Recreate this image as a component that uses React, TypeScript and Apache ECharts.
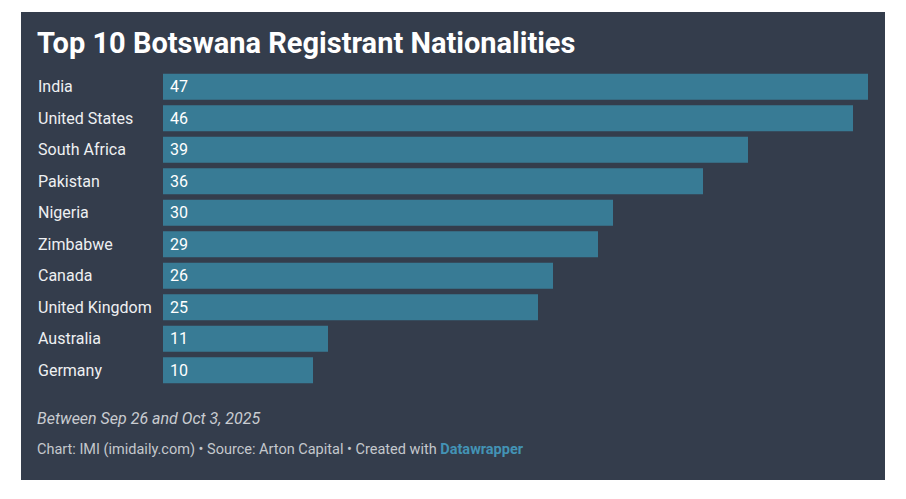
import React, { useEffect, useRef } from "react";
import * as echarts from "echarts";

const categories = [
  "India",
  "United States",
  "South Africa",
  "Pakistan",
  "Nigeria",
  "Zimbabwe",
  "Canada",
  "United Kingdom",
  "Australia",
  "Germany",
];
const values = [47, 46, 39, 36, 30, 29, 26, 25, 11, 10];

const titleText = "Top 10 Botswana Registrant Nationalities";
const subtitleText = "Between Sep 26 and Oct 3, 2025";
const footerText = "Chart: IMI (imidaily.com) • Source: Arton Capital • Created with ";
const footerLink = "Datawrapper";

export default function App() {
  const ref = useRef<HTMLDivElement>(null);
  useEffect(() => {
    if (!ref.current) return;
    const chart = echarts.init(ref.current, null, { renderer: "svg" });
    const font = "Roboto, 'Noto Sans', sans-serif";
    chart.setOption({
      animation: false,
      backgroundColor: "#ffffff",
      textStyle: { fontFamily: font },
      graphic: [
        {
          type: "rect",
          z: -10,
          shape: { x: 21, y: 12, width: 864, height: 468 },
          style: { fill: "#343d4c" },
        },
        {
          type: "text",
          left: 37,
          top: 28,
          style: {
            text: titleText,
            fill: "#ffffff",
            font: `bold 29px ${font}`,
          },
        },
        {
          type: "text",
          left: 37,
          top: 410,
          style: {
            text: subtitleText,
            fill: "#c9ccd1",
            font: `italic 16px ${font}`,
          },
        },
        {
          type: "text",
          left: 37,
          top: 442,
          style: {
            text: `{a|${footerText}}{b|${footerLink}}`,
            rich: {
              a: { fill: "#c4c8cd", fontSize: 14.5, fontFamily: font },
              b: { fill: "#4393b5", fontSize: 14.5, fontFamily: font, fontWeight: "bold" },
            },
          },
        },
      ],
      grid: { left: 163, right: 38, top: 71, bottom: 113, containLabel: false },
      xAxis: {
        type: "value",
        min: 0,
        max: 47,
        show: false,
      },
      yAxis: {
        type: "category",
        data: categories,
        inverse: true,
        axisLine: { show: false },
        axisTick: { show: false },
        axisLabel: {
          align: "left",
          margin: 125,
          color: "#eef0f2",
          fontSize: 16,
          fontFamily: font,
        },
      },
      series: [
        {
          type: "bar",
          data: values,
          barCategoryGap: "17.6%",
          itemStyle: { color: "#387b95" },
          label: {
            show: true,
            position: "insideLeft",
            distance: 7,
            color: "#ffffff",
            fontSize: 16,
            fontFamily: font,
          },
        },
      ],
    });
    return () => chart.dispose();
  }, []);
  return (
    <div
      ref={ref}
      style={{ position: "fixed", left: 0, top: 0, width: 906, height: 499 }}
    />
  );
}
